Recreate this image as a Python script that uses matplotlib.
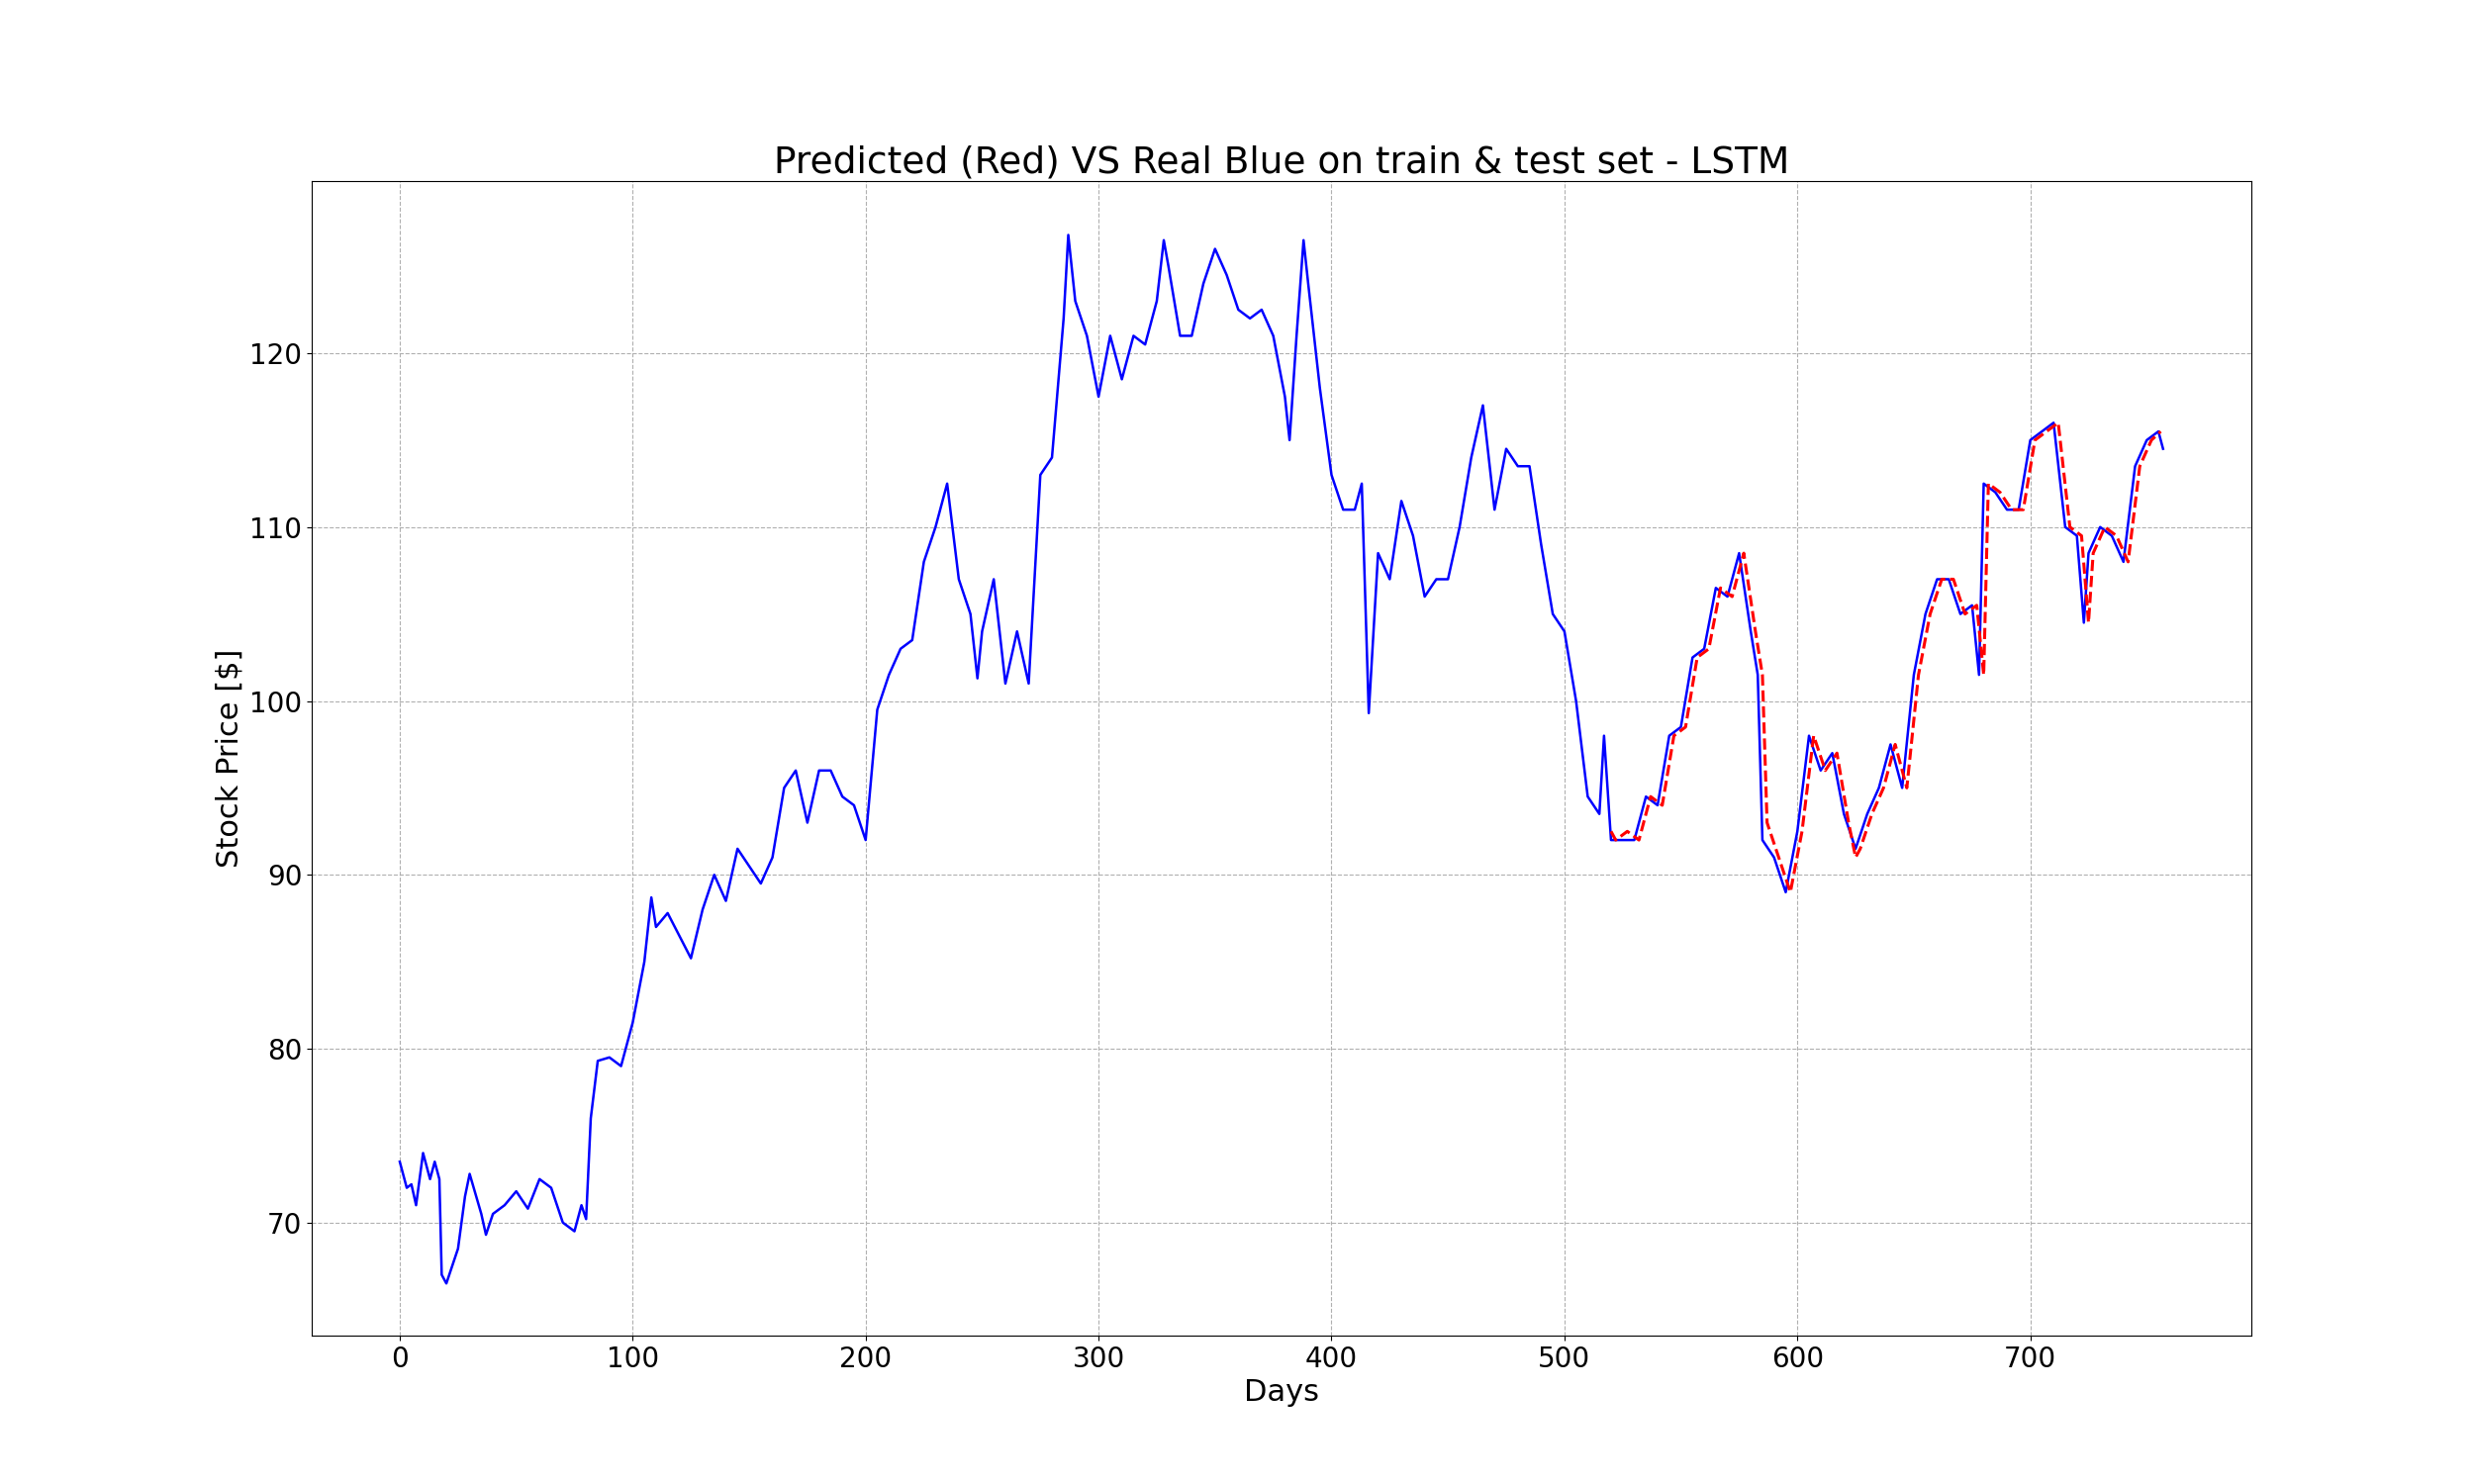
import matplotlib
matplotlib.use("Agg")
import matplotlib.pyplot as plt

days = [0,3,5,7,10,13,15,17,18,20,25,28,30,35,37,40,45,50,55,60,65,70,75,78,80,82,85,90,95,100,105,108,110,115,120,125,130,135,140,145,150,155,160,165,170,175,180,185,190,195,200,205,210,215,220,225,230,235,240,245,248,250,255,260,265,270,275,280,285,287,290,295,300,305,310,315,320,325,328,330,335,340,345,350,355,360,365,370,375,380,382,385,388,390,395,400,405,410,413,416,420,425,430,435,440,445,450,455,460,465,470,475,480,485,490,495,500,505,510,515,517,520,525,530,535,540,545,550,555,560,565,570,575,580,583,585,590,595,600,605,610,615,620,625,630,635,640,645,650,655,660,665,670,675,678,680,685,690,695,700,705,710,715,720,723,725,730,735,740,745,750,755,757]
real = [73.5,72.0,72.2,71.0,74.0,72.5,73.5,72.5,67.0,66.5,68.5,71.5,72.8,70.5,69.3,70.5,71.0,71.8,70.8,72.5,72.0,70.0,69.5,71.0,70.2,76.0,79.3,79.5,79.0,81.5,85.0,88.7,87.0,87.8,86.5,85.2,88.0,90.0,88.5,91.5,90.5,89.5,91.0,95.0,96.0,93.0,96.0,96.0,94.5,94.0,92.0,99.5,101.5,103.0,103.5,108.0,110.0,112.5,107.0,105.0,101.3,104.0,107.0,101.0,104.0,101.0,113.0,114.0,122.0,126.8,123.0,121.0,117.5,121.0,118.5,121.0,120.5,123.0,126.5,125.0,121.0,121.0,124.0,126.0,124.5,122.5,122.0,122.5,121.0,117.5,115.0,121.0,126.5,124.0,118.0,113.0,111.0,111.0,112.5,99.3,108.5,107.0,111.5,109.5,106.0,107.0,107.0,110.0,114.0,117.0,111.0,114.5,113.5,113.5,109.0,105.0,104.0,100.0,94.5,93.5,98.0,92.0,92.0,92.0,94.5,94.0,98.0,98.5,102.5,103.0,106.5,106.0,108.5,104.0,101.5,92.0,91.0,89.0,92.5,98.0,96.0,97.0,93.5,91.5,93.5,95.0,97.5,95.0,101.5,105.0,107.0,107.0,105.0,105.5,101.5,112.5,112.0,111.0,111.0,115.0,115.5,116.0,110.0,109.5,104.5,108.5,110.0,109.5,108.0,113.5,115.0,115.5,114.5]

pred_days = [520,522,527,532,537,542,547,552,557,562,567,572,577,582,585,587,592,597,602,607,612,617,622,625,627,632,637,642,647,652,657,662,667,672,677,680,682,687,692,697,702,707,712,717,722,725,727,732,737,742,747,752,756]
pred = [92.5,92.0,92.5,92.0,94.5,94.0,98.0,98.5,102.5,103.0,106.5,106.0,108.5,104.0,101.5,93.0,91.0,89.0,92.5,98.0,96.0,97.0,93.0,91.0,91.5,93.5,95.0,97.5,95.0,101.5,105.0,107.0,107.0,105.0,105.5,101.5,112.5,112.0,111.0,111.0,115.0,115.5,116.0,110.0,109.5,104.5,108.5,110.0,109.5,108.0,113.5,115.0,115.5]

fig = plt.figure(figsize=(25, 15), dpi=100)
ax = fig.add_axes([0.126, 0.1, 0.784, 0.778])
ax.plot(days, real, color="blue", lw=1.8)
ax.plot(pred_days, pred, color="red", lw=2.2, ls="--")
ax.set_title("Predicted (Red) VS Real Blue on train & test set - LSTM", fontsize=27)
ax.set_xlabel("Days", fontsize=22)
ax.set_ylabel("Stock Price [$]", fontsize=22)
ax.tick_params(labelsize=20)
ax.set_xticks([0,100,200,300,400,500,600,700])
ax.set_yticks([70,80,90,100,110,120])
ax.set_xlim(-37.8, 794.9)
ax.set_ylim(63.5, 129.9)
ax.grid(True, ls="--", color="#b0b0b0")
fig.savefig("out.png")
